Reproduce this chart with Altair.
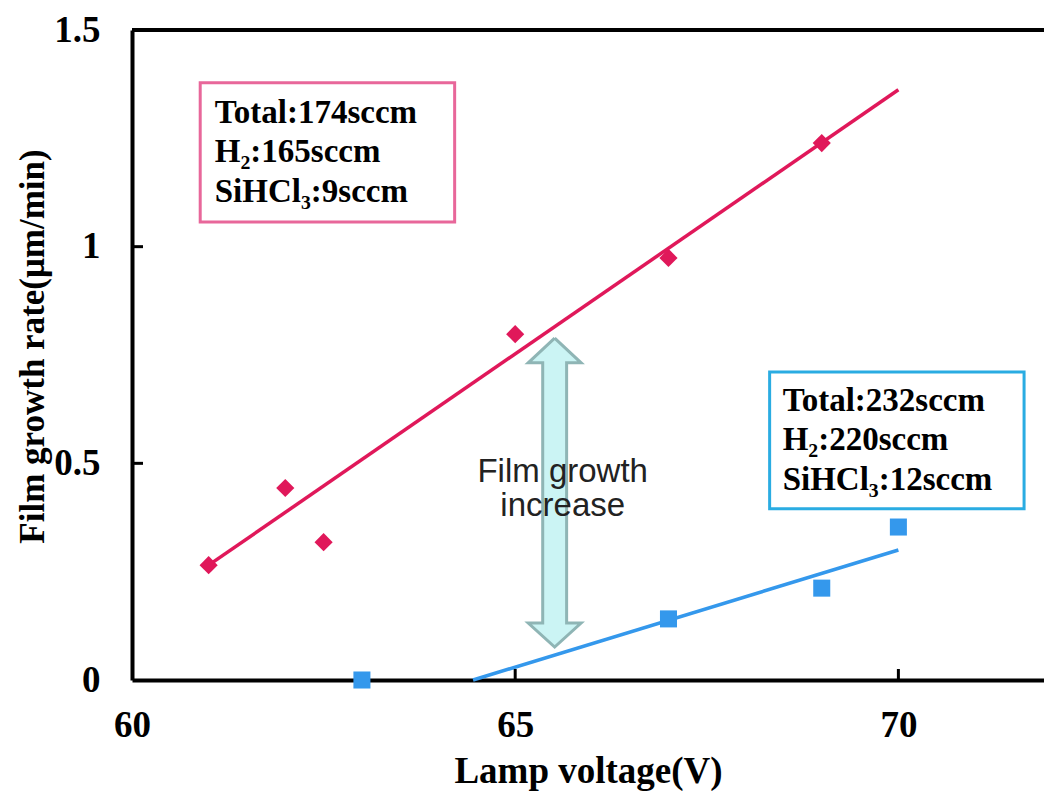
import altair as alt
import pandas as pd

# ---- data ----
pink_x = [61, 62, 62.5, 65, 67, 69]
pink_y = [0.265, 0.443, 0.318, 0.798, 0.974, 1.239]
blue_x = [63, 67, 69, 70]
blue_y = [0.0, 0.141, 0.212, 0.353]
pink_fit_x = [61, 70]
pink_fit_y = [0.265, 1.362]
blue_fit_x = [64.45, 70]
blue_fit_y = [0.0, 0.30]
x_tick_values = [60, 65, 70]
y_tick_values = [0, 0.5, 1, 1.5]
inner_x_ticks = [65, 70]
inner_y_ticks = [0.5, 1]
pink_lines = ["Total:174sccm", "H\u2082:165sccm", "SiHCl\u2083:9sccm"]
blue_lines = ["Total:232sccm", "H\u2082:220sccm", "SiHCl\u2083:12sccm"]
arrow_label = "Film growth\nincrease"

# ---- annotation placement (data units) ----
pink_box = dict(x=60.89, x2=64.21, y=1.378, y2=1.057)
blue_box = dict(x=68.32, x2=71.64, y=0.711, y2=0.395)
pink_text_x, pink_text_y = 61.08, [1.309, 1.219, 1.126]
blue_text_x, blue_text_y = 68.49, [0.644, 0.554, 0.462]
arrow_cx, arrow_hw, arrow_sw = 65.515, 0.345, 0.156
# outline of the double arrow, clockwise from the top tip
arrow_dx = [0, arrow_hw, arrow_sw, arrow_sw, arrow_hw, 0,
            -arrow_hw, -arrow_sw, -arrow_sw, -arrow_hw, 0]
arrow_y = [0.789, 0.732, 0.732, 0.1315, 0.1315, 0.076,
           0.1315, 0.1315, 0.732, 0.732, 0.789]

PINK = "#E0185A"
BLUE = "#3498EC"
SERIF = "Liberation Serif"
SANS = "Liberation Sans"

W, H = 912, 650
xs = alt.Scale(domain=[60, 71.9], nice=False, zero=False)
ys = alt.Scale(domain=[0, 1.5], nice=False, zero=False)

x_axis = alt.Axis(values=x_tick_values, ticks=False, grid=False, domainColor="black",
                  domainWidth=4, labelFont=SERIF, labelFontWeight="bold", labelFontSize=37,
                  labelColor="black", labelPadding=27, labelFlush=False, format="~g",
                  title="Lamp voltage(V)", titleFont=SERIF, titleFontWeight="bold",
                  titleFontSize=37, titleColor="black", titleY=102,
                  titleBaseline="alphabetic")
y_axis = alt.Axis(values=y_tick_values, ticks=False, grid=False, domainColor="black",
                  domainWidth=4, labelFont=SERIF, labelFontWeight="bold", labelFontSize=37,
                  labelColor="black", labelPadding=32, labelFlush=False, format="~g",
                  title="Film growth rate(\u03bcm/min)", titleFont=SERIF,
                  titleFontWeight="bold", titleFontSize=35, titleColor="black",
                  titleAngle=-90, titleX=-89, titleY=316, titleAlign="center",
                  titleBaseline="alphabetic")


def X(f="x"):
    return alt.X(f + ":Q", scale=xs, axis=x_axis)


def Y(f="y"):
    return alt.Y(f + ":Q", scale=ys, axis=y_axis)


pink_df = pd.DataFrame({"x": pink_x, "y": pink_y})
blue_df = pd.DataFrame({"x": blue_x, "y": blue_y})
pfit_df = pd.DataFrame({"x": pink_fit_x, "y": pink_fit_y})
bfit_df = pd.DataFrame({"x": blue_fit_x, "y": blue_fit_y})

# arrow polygon
arrow_df = pd.DataFrame({
    "i": list(range(len(arrow_y))),
    "x": [arrow_cx + d for d in arrow_dx],
    "y": arrow_y,
})
arrow = alt.Chart(arrow_df).mark_line(fill="#CBF4F4", stroke="#8FB5B5", strokeWidth=3,
                                      strokeJoin="miter").encode(
    x=X(), y=Y(), order=alt.Order("i:Q"))

arrow_text = alt.Chart(pd.DataFrame({"x": [65.62], "y": [0.48], "t": [arrow_label]})).mark_text(
    font=SANS, fontSize=33, lineHeight=34, lineBreak="\n", align="center",
    baseline="middle", color="#222222").encode(x=X(), y=Y(), text="t:N")

pink_line = alt.Chart(pfit_df).mark_line(color=PINK, strokeWidth=3.5).encode(x=X(), y=Y())
blue_line = alt.Chart(bfit_df).mark_line(color=BLUE, strokeWidth=3.5).encode(x=X(), y=Y())
pink_pts = alt.Chart(pink_df).mark_point(shape="diamond", filled=True, size=330,
                                         color=PINK, opacity=1).encode(x=X(), y=Y())
blue_pts = alt.Chart(blue_df).mark_point(shape="square", filled=True, size=290,
                                         color=BLUE, opacity=1).encode(x=X(), y=Y())

box_df = pd.DataFrame([dict(**pink_box, c="#E8679A"), dict(**blue_box, c="#2AACE2")])
boxes = alt.Chart(box_df).mark_rect(fill="white", strokeWidth=3).encode(
    x=X("x"), x2="x2", y=Y("y"), y2="y2",
    stroke=alt.Stroke("c:N", scale=None))

txt_df = pd.DataFrame({
    "x": [pink_text_x] * 3 + [blue_text_x] * 3,
    "y": pink_text_y + blue_text_y,
    "t": pink_lines + blue_lines,
})
box_text = alt.Chart(txt_df).mark_text(font=SERIF, fontWeight="bold", fontSize=33,
                                       align="left", baseline="middle",
                                       color="black").encode(x=X(), y=Y(), text="t:N")

xt = alt.Chart(pd.DataFrame({"x": inner_x_ticks})).mark_rule(color="black", strokeWidth=3).encode(
    x=X(), y=alt.value(H), y2=alt.value(H - 11))
yt = alt.Chart(pd.DataFrame({"y": inner_y_ticks})).mark_rule(color="black", strokeWidth=3).encode(
    y=Y(), x=alt.value(0), x2=alt.value(11))
top = alt.Chart(pd.DataFrame({"y": [1.5]})).mark_rule(color="black", strokeWidth=4).encode(
    y=Y(), x=alt.value(0), x2=alt.value(W))

chart = alt.layer(
    arrow, arrow_text, pink_line, blue_line, boxes, box_text,
    pink_pts, blue_pts, xt, yt, top
).properties(
    width=W, height=H,
    autosize=alt.AutoSizeParams(type="none"),
    padding={"left": 132, "top": 30, "right": 0, "bottom": 111},
    background="white",
).configure_view(stroke=None)

chart.save("out.html", embed_options={"renderer": "svg", "actions": False})
